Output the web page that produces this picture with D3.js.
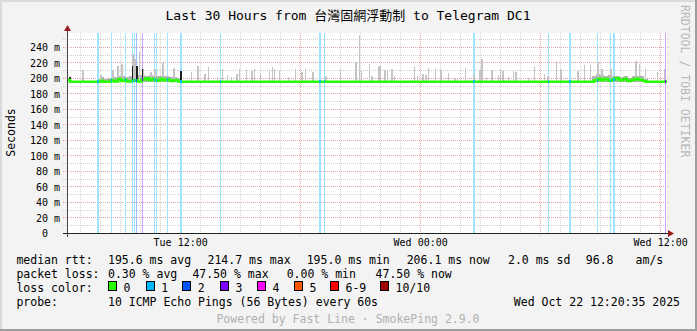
<!DOCTYPE html>
<html><head><meta charset="utf-8">
<script src="https://cdn.jsdelivr.net/npm/d3@7/dist/d3.min.js"></script>
<style>
body{margin:0;background:#f3f3f3}
svg{display:block}
text{font-family:"DejaVu Sans Mono","Noto Sans CJK TC",monospace}
</style>
</head><body>
<svg id="chart" width="697" height="331"></svg>
<script>
// ---------------- DATA ----------------
const titleText = "Last 30 Hours from 台灣固網浮動制 to Telegram DC1";
const yAxisTitle = "Seconds";
const endStamp = "2025-10-22 12:20:35";
const spanMinutes = 1800;
const yTicks = [0, 20, 40, 60, 80, 100, 120, 140, 160, 180, 200, 220, 240];
const xTickStamps = ["2025-10-21 12:00:00", "2025-10-22 00:00:00", "2025-10-22 12:00:00"];
const xTickLabels = ["Tue 12:00", "Wed 00:00", "Wed 12:00"];

// median rtt (minutes after start, ms)
const medianMin = [0, 9, 90, 99, 108, 123, 132, 141, 153, 162, 171, 180, 192, 201, 213, 225, 237, 246, 255, 267, 279, 288, 297, 309, 321, 333, 342,
  1569, 1581, 1593, 1602, 1611, 1623, 1635, 1644, 1656, 1668, 1680, 1692, 1704, 1716, 1728, 1737, 1800];
const medianVal = [197.5, 195.2, 195.2, 196.5, 195.2, 195.2, 197, 195.5, 198.5, 196, 197.5, 195.5, 196, 197, 195.5, 198, 199.5, 197, 198.5, 196.5, 199, 197, 198, 196, 197, 195.5, 195.2,
  195.2, 197, 199, 197, 198.5, 196.5, 198, 199.5, 197, 198.5, 196, 197.5, 199, 197.5, 196, 195.2, 195.2];

// outlier smoke spikes (minutes after start, highest ping ms)
const smokeMin = [45, 99, 135, 150, 162, 195, 201, 215, 225, 249, 261, 285, 318, 371, 390, 411, 422, 449, 464, 479, 491, 507, 515, 536, 552, 560, 578,
  605, 614, 620, 635, 662, 683, 702, 713, 735, 774, 818, 864, 875, 881, 905, 912, 932, 936, 951, 959, 972, 980, 1040, 1049, 1065, 1074, 1082,
  1103, 1119, 1142, 1161, 1169, 1193, 1218, 1236, 1242, 1256, 1272, 1292, 1298, 1305, 1322, 1337, 1344, 1382, 1400, 1430, 1440, 1466, 1479,
  1530, 1550, 1568, 1590, 1602, 1629, 1704, 1715, 1733, 1769, 1790];
const smokeTop = [210, 204, 210, 216, 218, 231, 224, 233, 212, 208, 212, 219, 213, 208, 216, 205, 214, 201, 211, 204, 201, 205, 211, 210, 209, 211, 205,
  210, 214, 212, 210, 201, 211, 208, 211, 208, 202, 210, 220, 255, 210, 218, 202, 214, 216, 210, 210, 212, 203, 216, 202, 205, 204, 213,
  213, 210, 207, 200, 200, 213, 204, 210, 225, 200, 210, 204, 211, 209, 201, 209, 208, 200, 216, 205, 203, 220, 211,
  209, 217, 217, 220, 212, 212, 222, 218, 212, 208, 212];

// dense (dark) smoke columns
const darkMin = [6, 194, 207, 224, 339];
const darkLow = [194, 196, 196, 196, 196];
const darkHigh = [201, 215, 216, 211, 209];

// busy periods: grey smoke band top (ms)
const busyMin = [99, 111, 123, 138, 150, 162, 174, 186, 198, 210, 222, 234, 246, 258, 270, 282, 294, 306, 318, 330,
  1575, 1587, 1599, 1611, 1623, 1635, 1647, 1659, 1671, 1683, 1695, 1707, 1719, 1731];
const busyTop = [201, 199, 200, 201, 203, 202, 201, 203, 203, 204, 204, 203, 204, 203, 202, 203, 202, 201, 201, 200,
  203, 205, 204, 203, 204, 202, 203, 201, 202, 200, 203, 202, 203, 199];

// packet loss events (minutes after start, duration in minutes, loss colour level)
const lossMin = [91, 133, 175, 196, 201, 208, 225, 262, 268, 301, 340, 459, 755, 771, 1219, 1444, 1506, 1590, 1629, 1637, 1794];
const lossDur = [6, 3, 3, 3, 3, 3, 3, 3, 3, 3, 6, 3, 6, 3, 6, 3, 6, 3, 3, 6, 3];
const lossLevel = [1, 1, 1, 1, 1, 2, 3, 1, 1, 1, 1, 1, 1, 1, 1, 1, 1, 1, 1, 1, 3];

const lossColors = ["#26ff00", "#00b8ff", "#0059ff", "#7e00ff", "#ff00ff", "#ff5500", "#ff0000", "#a10000"];
const lossNames = ["0", "1", "2", "3", "4", "5", "6-9", "10/10"];

const rttLabel = "median rtt:";
const rttItems = ["195.6 ms avg", "214.7 ms max", "195.0 ms min", "206.1 ms now", "2.0 ms sd", "96.8", "am/s"];
const lossLabel = "packet loss:";
const lossItems = ["0.30 % avg", "47.50 % max", "0.00 % min", "47.50 % now"];
const colorLabel = "loss color:";
const probeLabel = "probe:";
const probeText = "10 ICMP Echo Pings (56 Bytes) every 60s";
const dateText = "Wed Oct 22 12:20:35 2025";
const footerText = "Powered by Fast Line · SmokePing 2.9.0";
const watermark = "RRDTOOL / TOBI OETIKER";

// ---------------- CHART ----------------
const parse = d3.timeParse("%Y-%m-%d %H:%M:%S");
const end = parse(endStamp);
const start = new Date(end.getTime() - spanMinutes * 60000);
const tAt = m => new Date(start.getTime() + m * 60000);

const W = 697, H = 331;
const L = 67, R = 667, T = 33, B = 233;
const x = d3.scaleTime().domain([start, end]).range([L, R]);
const y = d3.scaleLinear().domain([0, 258]).range([B, T]);
const svg = d3.select("#chart");

// canvas & border
svg.append("rect").attr("width", W).attr("height", H).attr("fill", "#f3f3f3");
svg.append("rect").attr("x", 0).attr("y", 0).attr("width", W).attr("height", 2).attr("fill", "#dadada");
svg.append("rect").attr("x", 0).attr("y", 0).attr("width", 2).attr("height", H).attr("fill", "#dadada");
svg.append("rect").attr("x", 0).attr("y", H - 2).attr("width", W).attr("height", 2).attr("fill", "#9e9e9e");
svg.append("rect").attr("x", W - 2).attr("y", 0).attr("width", 2).attr("height", H).attr("fill", "#9e9e9e");

svg.append("rect").attr("x", L).attr("y", T).attr("width", R - L).attr("height", B - T).attr("fill", "#ffffff");

// grid
const grid = svg.append("g").attr("shape-rendering", "crispEdges").attr("stroke-dasharray", "1,1");
const minorY = d3.range(10, 260, 20);
grid.selectAll(".hmin").data(minorY).join("line")
  .attr("x1", L - 4).attr("x2", R + 2).attr("y1", d => Math.round(y(d)) + 0.5).attr("y2", d => Math.round(y(d)) + 0.5)
  .attr("stroke", "#cfcfcf");
grid.selectAll(".hmaj").data(yTicks.filter(d => d > 0)).join("line")
  .attr("x1", L - 4).attr("x2", R + 2).attr("y1", d => Math.round(y(d)) + 0.5).attr("y2", d => Math.round(y(d)) + 0.5)
  .attr("stroke", "#e2a5a5");
const hours = d3.timeHour.range(start, end);
grid.selectAll(".vmin").data(hours.filter(h => h.getHours() % 6 !== 0)).join("line")
  .attr("x1", d => Math.round(x(d)) + 0.5).attr("x2", d => Math.round(x(d)) + 0.5).attr("y1", T).attr("y2", B + 2)
  .attr("stroke", "#cfcfcf");
grid.selectAll(".vmaj").data(hours.filter(h => h.getHours() % 6 === 0)).join("line")
  .attr("x1", d => Math.round(x(d)) + 0.5).attr("x2", d => Math.round(x(d)) + 0.5).attr("y1", T).attr("y2", B + 4)
  .attr("stroke", "#e2a5a5");

// loss background bars
const lossData = lossMin.map((m, i) => ({m, s: lossDur[i], l: lossLevel[i]}));
const lightC = c => d3.interpolateRgb("#ffffff", c)(0.38);
svg.append("g").attr("shape-rendering", "crispEdges").selectAll("rect").data(lossData).join("rect")
  .attr("x", d => Math.round(x(tAt(d.m)))).attr("width", d => Math.max(1, Math.round(x(tAt(d.m + d.s)) - x(tAt(d.m)))))
  .attr("y", T).attr("height", B - T)
  .attr("fill", d => lightC(lossColors[d.l]));

// median lookup
const medianAt = m => {
  const i = d3.bisectRight(medianMin, m) - 1;
  return medianVal[Math.max(0, i)];
};

// busy smoke band
const busy = busyMin.map((m, i) => ({m, v: busyTop[i]}));
svg.append("g").attr("shape-rendering", "crispEdges").selectAll("rect").data(busy).join("rect")
  .attr("x", d => x(tAt(d.m))).attr("width", d => x(tAt(d.m + 12)) - x(tAt(d.m)))
  .attr("y", d => y(d.v)).attr("height", d => y(194.5) - y(d.v))
  .attr("fill", "#b4b4b4");

// spikes
const spikes = smokeMin.map((m, i) => ({m, v: smokeTop[i]}));
svg.append("g").attr("shape-rendering", "crispEdges").selectAll("rect").data(spikes).join("rect")
  .attr("x", d => x(tAt(d.m))).attr("width", d => x(tAt(d.m + 5)) - x(tAt(d.m)))
  .attr("y", d => y(d.v)).attr("height", d => y(medianAt(d.m)) - y(d.v))
  .attr("fill", "#c4c4c4");

// dark smoke
const dark = darkMin.map((m, i) => ({m, lo: darkLow[i], hi: darkHigh[i]}));
svg.append("g").attr("shape-rendering", "crispEdges").selectAll("rect").data(dark).join("rect")
  .attr("x", d => x(tAt(d.m))).attr("width", d => x(tAt(d.m + 5)) - x(tAt(d.m)))
  .attr("y", d => y(d.hi)).attr("height", d => y(d.lo) - y(d.hi))
  .attr("fill", "#1e1e1e");

// median line
const med = medianMin.map((m, i) => ({m, v: medianVal[i]}));
svg.append("path").datum(med)
  .attr("d", d3.line().x(d => x(tAt(d.m))).y(d => y(d.v)).curve(d3.curveStepAfter))
  .attr("fill", "none").attr("stroke", lossColors[0]).attr("stroke-width", 2.5);

// loss-colored median segments
svg.append("g").attr("shape-rendering", "crispEdges").selectAll("rect").data(lossData).join("rect")
  .attr("x", d => Math.round(x(tAt(d.m)))).attr("width", d => Math.max(1, Math.round(x(tAt(d.m + d.s)) - x(tAt(d.m)))))
  .attr("y", d => y(medianAt(d.m)) - 1.5).attr("height", 3)
  .attr("fill", d => lossColors[d.l]);

// axes
const axisG = svg.append("g").attr("shape-rendering", "crispEdges");
axisG.append("line").attr("x1", L - 4).attr("x2", R + 2).attr("y1", B + 0.5).attr("y2", B + 0.5).attr("stroke", "#222");
axisG.append("line").attr("x1", L + 0.5).attr("x2", L + 0.5).attr("y1", B + 4).attr("y2", T - 3).attr("stroke", "#444");
svg.append("path").attr("d", `M${R + 1},${B - 3} L${R + 7},${B + 0.5} L${R + 1},${B + 4} Z`).attr("fill", "#9b1c1c");
svg.append("path").attr("d", `M${L - 3},${T - 2} L${L + 0.5},${T - 8} L${L + 4},${T - 2} Z`).attr("fill", "#9b1c1c");

const xTicks = xTickStamps.map(parse);
const xAx = svg.append("g").attr("transform", `translate(0,${B})`)
  .call(d3.axisBottom(x).tickValues(xTicks).tickFormat((d, i) => xTickLabels[i]).tickSize(0));
xAx.select(".domain").remove();
xAx.selectAll("text").attr("y", 12.5).attr("dy", 0).attr("font-size", 10).attr("font-family", "DejaVu Sans Mono").attr("fill", "#000");

const yAx = svg.append("g").attr("transform", "translate(60,0)")
  .call(d3.axisLeft(y).tickValues(yTicks).tickFormat(d => d === 0 ? "0" : d + " m").tickSize(0).tickPadding(0));
yAx.select(".domain").remove();
yAx.selectAll("text").attr("x", d => d === 0 ? -12 : 0).attr("dy", "0.36em").attr("font-size", 10)
  .attr("font-family", "DejaVu Sans Mono").attr("fill", "#000");

// titles
svg.append("text").attr("x", 348).attr("y", 19.5).attr("text-anchor", "middle").attr("font-size", 13).attr("fill", "#000").text(titleText);
svg.append("text").attr("transform", "translate(14.5,132.5) rotate(-90)").attr("text-anchor", "middle")
  .attr("font-size", 11.5).attr("fill", "#000").text(yAxisTitle);
svg.append("text").attr("transform", "translate(681,5) rotate(90)").attr("text-anchor", "start")
  .attr("font-size", 11.5).attr("fill", "#b8b8b8").text(watermark);

// legend
const lg = svg.append("g").attr("font-size", 11.5).attr("fill", "#000");
const row1 = [108, 207.5, 306.7, 406.7, 508, 585.8, 635.6];
lg.append("text").attr("x", 16.4).attr("y", 264).text(rttLabel);
rttItems.forEach((t, i) => lg.append("text").attr("x", row1[i]).attr("y", 264).text(t));
const row2 = [108, 192.4, 286.7, 375.6];
lg.append("text").attr("x", 16.4).attr("y", 277.5).text(lossLabel);
lossItems.forEach((t, i) => lg.append("text").attr("x", row2[i]).attr("y", 277.5).text(t));
lg.append("text").attr("x", 16.4).attr("y", 291.5).text(colorLabel);
const boxX = [108, 145.8, 182.2, 220, 257, 294, 330, 380];
lossNames.forEach((n, i) => {
  lg.append("rect").attr("x", Math.round(boxX[i]) + 0.5).attr("y", 281.5).attr("width", 8).attr("height", 9)
    .attr("fill", lossColors[i]).attr("stroke", "#000").attr("stroke-width", 1);
  lg.append("text").attr("x", boxX[i] + 15.5).attr("y", 291.5).text(n);
});
lg.append("text").attr("x", 16.4).attr("y", 306).text(probeLabel);
lg.append("text").attr("x", 108).attr("y", 306).text(probeText);
lg.append("text").attr("x", 680).attr("y", 306).attr("text-anchor", "end").text(dateText);
svg.append("text").attr("x", 348).attr("y", 322.5).attr("text-anchor", "middle").attr("font-size", 11.5)
  .attr("fill", "#b0b0b0").text(footerText);
</script>
</body></html>
